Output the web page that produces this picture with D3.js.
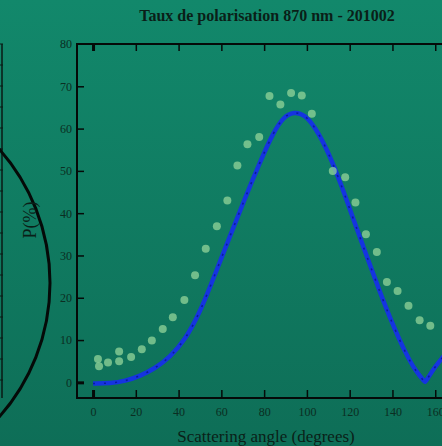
<!DOCTYPE html>
<html>
<head>
<meta charset="utf-8">
<script src="https://cdn.jsdelivr.net/npm/d3@7/dist/d3.min.js"></script>
<style>
  body { margin: 0; padding: 0; overflow: hidden; }
  .tick text { font-family: "Liberation Serif", "DejaVu Serif", serif; }
</style>
</head>
<body>
<div class="chart"></div>
<script>
// Define SVG area dimensions
var svgWidth = 442;
var svgHeight = 446;

// Measured polarisation (green dots)
var measAngle = [2.3, 2.8, 7.0, 12.2, 12.2, 17.8, 22.8, 27.5, 32.6, 37.3, 42.7, 47.7, 52.7, 57.9, 62.8, 67.5,
  72.2, 77.7, 82.5, 87.6, 92.6, 97.6, 102.3, 112.1, 117.9, 122.7, 127.6, 132.7, 137.4, 142.4, 147.5, 152.7, 157.7];
var measP = [5.5, 3.8, 4.7, 7.3, 5.0, 6.0, 7.8, 9.9, 12.6, 15.4, 19.5, 25.3, 31.6, 36.9, 43.0, 51.3,
  56.3, 58.0, 67.7, 65.7, 68.4, 67.8, 63.5, 50.0, 48.5, 42.5, 35.0, 30.8, 23.7, 21.6, 18.1, 14.7, 13.4];

// Model curve (blue line)
var modelAngle = [0, 0, 8, 15, 22, 29, 36, 43, 50, 57, 64, 71, 78, 84, 89, 94, 99, 104, 110, 116, 122,
  128, 134, 140, 146, 151, 155.3, 155.3, 160, 164];
var modelP = [-0.3, -0.3, -0.2, 0.3, 1.5, 3.3, 6.0, 10.0, 16.5, 25.5, 34.5, 43.5, 52.0, 58.8, 62.8, 64.0,
  63.3, 60.2, 54.5, 46.8, 38.2, 29.8, 21.5, 13.8, 7.0, 2.5, 0, 0, 3.8, 6.2];

// Tick values
var xTicks = [0, 20, 40, 60, 80, 100, 120, 140, 160];
var yTicks = [0, 10, 20, 30, 40, 50, 60, 70, 80];

var svg = d3.select(".chart")
  .append("svg")
  .attr("width", svgWidth)
  .attr("height", svgHeight);

// green background gradient
var grad = svg.append("defs").append("linearGradient")
  .attr("id", "bg")
  .attr("x1", 0).attr("y1", 0).attr("x2", 0).attr("y2", 1);
grad.append("stop").attr("offset", "0%").attr("stop-color", "#12886b");
grad.append("stop").attr("offset", "100%").attr("stop-color", "#0e6e57");

svg.append("rect")
  .attr("width", svgWidth)
  .attr("height", svgHeight)
  .attr("fill", "url(#bg)");

// neighbouring (cut off) figure on the left
svg.append("line")
  .attr("x1", 2).attr("x2", 2)
  .attr("y1", 44).attr("y2", 398)
  .attr("stroke", "#0a1a14")
  .attr("stroke-width", 1.5);
d3.range(44, 398, 21).forEach(function (yy) {
  svg.append("line")
    .attr("x1", 0).attr("x2", 3)
    .attr("y1", yy).attr("y2", yy)
    .attr("stroke", "#0a1a14");
});
svg.append("circle")
  .attr("cx", -152)
  .attr("cy", 283)
  .attr("r", 202)
  .attr("fill", "none")
  .attr("stroke", "#050a08")
  .attr("stroke-width", 3);

// Scales
var xScale = d3.scaleLinear().domain([-7.5, 180]).range([77, 478]);
var yScale = d3.scaleLinear().domain([-3.7, 80]).range([398, 44]);

var chart = svg.append("g");

// frame
chart.append("path")
  .attr("d", "M" + xScale(180) + "," + yScale(80) + "H" + xScale(-7.5) + "V" + yScale(-3.7) + "H" + xScale(180))
  .attr("fill", "none")
  .attr("stroke", "#050a08")
  .attr("stroke-width", 2);

// bottom axis, ticks pointing inward
var bottomAxis = d3.axisBottom(xScale).tickValues(xTicks).tickSize(-8).tickPadding(9);
var gx = chart.append("g")
  .attr("transform", "translate(0," + yScale(-3.7) + ")")
  .call(bottomAxis);

// top axis ticks, no labels
var topAxis = d3.axisTop(xScale).tickValues(xTicks).tickSize(-7).tickFormat("");
var gt = chart.append("g")
  .attr("transform", "translate(0," + yScale(80) + ")")
  .call(topAxis);

// left axis, ticks pointing inward
var leftAxis = d3.axisLeft(yScale).tickValues(yTicks).tickSize(-7).tickPadding(5);
var gy = chart.append("g")
  .attr("transform", "translate(" + xScale(-7.5) + ",0)")
  .call(leftAxis);

[gx, gt, gy].forEach(function (g) {
  g.select(".domain").remove();
  g.selectAll(".tick line").attr("stroke", "#050a08").attr("stroke-width", 1.5);
  g.selectAll(".tick text")
    .attr("fill", "#0b2e22")
    .style("font-size", "12px");
});
// the zero ticks are drawn heavier
[gx, gt, gy].forEach(function (g) {
  g.selectAll(".tick").filter(function (d) { return d === 0; }).select("line").attr("stroke-width", 3);
});
gy.selectAll(".tick").filter(function (d) { return d === 80; }).select("line").remove();

// model curve
var line = d3.line()
  .x(function (d, i) { return xScale(modelAngle[i]); })
  .y(function (d, i) { return yScale(modelP[i]); })
  .curve(d3.curveBasis);

chart.append("path")
  .datum(modelP)
  .attr("d", line)
  .attr("fill", "none")
  .attr("stroke", "#1534e0")
  .attr("stroke-width", 4.5)
  .attr("stroke-linejoin", "round");

chart.append("path")
  .datum(modelP)
  .attr("d", line)
  .attr("fill", "none")
  .attr("stroke", "#0c1c9a")
  .attr("stroke-width", 1.5)
  .attr("stroke-dasharray", "2,9");

// measured points
chart.selectAll("circle.meas")
  .data(measP)
  .enter()
  .append("circle")
  .attr("class", "meas")
  .attr("cx", function (d, i) { return xScale(measAngle[i]); })
  .attr("cy", function (d) { return yScale(d); })
  .attr("r", 4)
  .attr("fill", "#93d49a")
  .style("opacity", 0.75);

// title
svg.append("text")
  .attr("x", 267)
  .attr("y", 21)
  .attr("text-anchor", "middle")
  .style("font-family", "Liberation Serif, serif")
  .style("font-weight", "bold")
  .style("font-size", "16px")
  .attr("fill", "#0a1f18")
  .text("Taux de polarisation 870 nm - 201002");

// x-axis label
svg.append("text")
  .attr("x", 266)
  .attr("y", 442)
  .attr("text-anchor", "middle")
  .style("font-family", "Liberation Serif, serif")
  .style("font-size", "17px")
  .attr("fill", "#0a1f18")
  .text("Scattering angle (degrees)");

// y-axis label
svg.append("text")
  .attr("transform", "translate(36,220) rotate(-90)")
  .attr("text-anchor", "middle")
  .style("font-family", "Liberation Serif, serif")
  .style("font-size", "18px")
  .attr("fill", "#0a1f18")
  .text("P(%)");
</script>
</body>
</html>
